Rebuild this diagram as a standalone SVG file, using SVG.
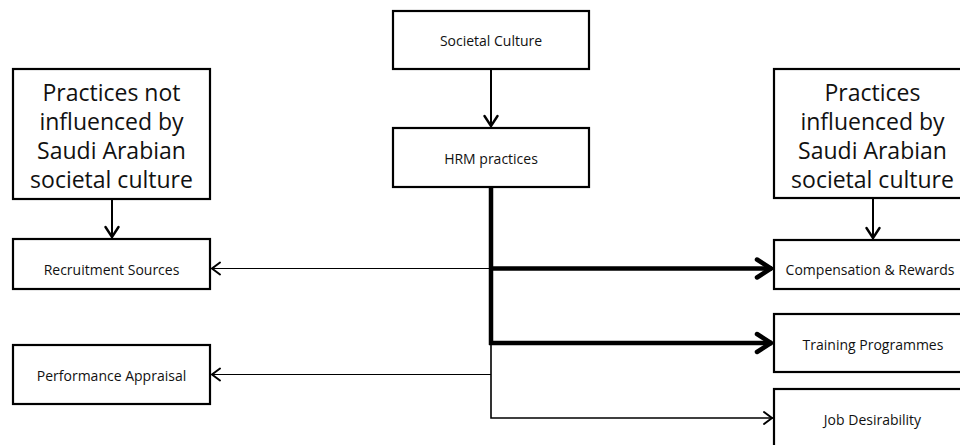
<svg xmlns="http://www.w3.org/2000/svg" width="960" height="445" viewBox="0 0 960 445">
<defs>
<style>
.box{fill:#fff;stroke:#000;stroke-width:2.2}
.sm{font-family:"Open Sans","Liberation Sans",sans-serif;font-size:14px;fill:#111;text-anchor:middle}
.big{font-family:"Open Sans","Liberation Sans",sans-serif;font-size:23px;fill:#111;text-anchor:middle}
.thick{stroke:#000;stroke-width:4.5;fill:none}
.med{stroke:#000;stroke-width:2;fill:none}
.thin{stroke:#000;stroke-width:1.6;fill:none}
.hair{stroke:#000;stroke-width:1;fill:none}
.head{fill:none;stroke:#000;stroke-linecap:round;stroke-linejoin:miter}
</style>
<marker id="aThick" markerUnits="userSpaceOnUse" markerWidth="24" markerHeight="24" viewBox="-20 -12 24 24" refX="0" refY="0" orient="auto">
<polyline class="head" points="-15,-9 -1,0 -15,9" stroke-width="4.5"/>
</marker>
<marker id="aMed" markerUnits="userSpaceOnUse" markerWidth="16" markerHeight="16" viewBox="-14 -8 16 16" refX="0" refY="0" orient="auto">
<polyline class="head" points="-11,-6.5 -1,0 -11,6.5" stroke-width="2.4"/>
</marker>
<marker id="aThin" markerUnits="userSpaceOnUse" markerWidth="16" markerHeight="16" viewBox="-14 -8 16 16" refX="0" refY="0" orient="auto">
<polyline class="head" points="-9,-6 -1,0 -9,6" stroke-width="2"/>
</marker>
</defs>
<rect width="960" height="445" fill="#fff"/>

<g id="connectors">
<line class="med" x1="491" y1="69" x2="491" y2="127" marker-end="url(#aMed)"/>
<line class="med" x1="112" y1="199" x2="112" y2="238" marker-end="url(#aMed)"/>
<line class="med" x1="873" y1="198" x2="873" y2="239" marker-end="url(#aMed)"/>
<line class="thick" x1="491" y1="187" x2="491" y2="345"/>
<line class="thick" x1="489" y1="268.5" x2="772" y2="268.5" marker-end="url(#aThick)"/>
<line class="thick" x1="489" y1="343" x2="772" y2="343" marker-end="url(#aThick)"/>
<polyline class="thin" points="491,343 491,418 773,418" marker-end="url(#aThin)"/>
<line class="hair" x1="491" y1="268.5" x2="211" y2="268.5" marker-end="url(#aThin)"/>
<line class="hair" x1="491" y1="374.5" x2="211" y2="374.5" marker-end="url(#aThin)"/>
</g>

<g id="societal-culture">
<rect class="box" x="393" y="11" width="196" height="58"/>
<text class="sm" x="491" y="46">Societal Culture</text>
</g>
<g id="hrm-practices">
<rect class="box" x="393" y="128" width="196" height="59"/>
<text class="sm" x="491" y="164">HRM practices</text>
</g>
<g id="not-influenced">
<rect class="box" x="13" y="69" width="197" height="130"/>
<text class="big" x="111.5" y="101">Practices not</text>
<text class="big" x="111.5" y="130">influenced by</text>
<text class="big" x="111.5" y="159">Saudi Arabian</text>
<text class="big" x="111.5" y="188">societal culture</text>
</g>
<g id="influenced">
<rect class="box" x="774" y="69" width="197" height="129"/>
<text class="big" x="872.5" y="101">Practices</text>
<text class="big" x="872.5" y="130">influenced by</text>
<text class="big" x="872.5" y="159">Saudi Arabian</text>
<text class="big" x="872.5" y="188">societal culture</text>
</g>
<g id="recruitment-sources">
<rect class="box" x="13" y="239" width="197" height="50"/>
<text class="sm" x="111.5" y="275">Recruitment Sources</text>
</g>
<g id="performance-appraisal">
<rect class="box" x="13" y="345" width="197" height="59"/>
<text class="sm" x="111.5" y="381">Performance Appraisal</text>
</g>
<g id="compensation-rewards">
<rect class="box" x="774" y="240" width="197" height="49"/>
<text class="sm" x="870" y="275">Compensation &amp; Rewards</text>
</g>
<g id="training-programmes">
<rect class="box" x="774" y="314" width="197" height="58"/>
<text class="sm" x="873" y="350">Training Programmes</text>
</g>
<g id="job-desirability">
<rect class="box" x="774" y="389" width="197" height="70"/>
<text class="sm" x="872.5" y="425">Job Desirability</text>
</g>
</svg>
